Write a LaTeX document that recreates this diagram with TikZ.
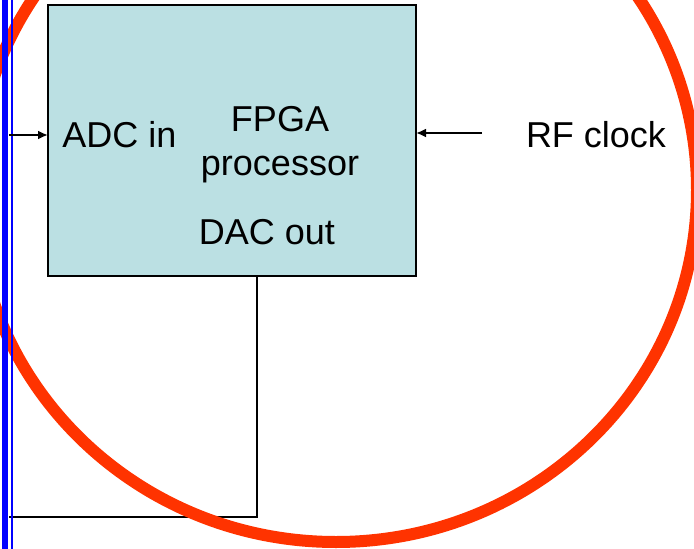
\documentclass[tikz,border=0pt]{standalone}
\usepackage{fontspec}
\setmainfont{Liberation Sans}
\usetikzlibrary{arrows.meta}
\definecolor{boxfill}{HTML}{BBE0E3}
\definecolor{ringred}{HTML}{FF3300}
\definecolor{railblue}{HTML}{0000FF}
\tikzset{
  label36/.style={font=\fontsize{36}{40}\selectfont, inner sep=0pt, anchor=base},
  wire/.style={draw=black, line width=2pt},
  feed/.style={wire, -{Latex[length=10pt,width=9pt]}},
  procbox/.style={draw=black, line width=2pt, fill=boxfill, rectangle,
    minimum width=368pt, minimum height=271pt, inner sep=0pt},
}
\begin{document}
\begin{tikzpicture}[x=1pt, y=-1pt]
  \useasboundingbox (0,0) rectangle (694,549);
  \begin{scope}
    \clip (0,0) rectangle (694,549);

    % processor block
    \node[procbox] (fpga) at (232,140.5) {};

    % feedback loop from the DAC output back to the rail
    \coordinate (dacbot) at (257,276);
    \coordinate (loopcorner) at (257,517);
    \coordinate (loopend) at (9,517);
    \draw[wire] (dacbot) -- (loopcorner) -- (loopend);

    % ring
    \draw[ringred, line width=12pt] (336,190) ellipse [x radius=361, y radius=352];

    % rails
    \draw[railblue, line width=6pt] (5,-5) -- (5,560);
    \draw[railblue, line width=2pt] (12,-5) -- (12,560);

    % inputs
    \coordinate (adcsrc) at (9,135);
    \coordinate (adcin) at (48,135);
    \draw[feed] (adcsrc) -- (adcin);
    \coordinate (rfsrc) at (482,133);
    \coordinate (rfin) at (416,133);
    \draw[feed] (rfsrc) -- (rfin);
  \end{scope}

  % labels
  \node[label36] (adc) at (119.5,147) {ADC in};
  \node[label36] (fpgat) at (280,131) {FPGA};
  \node[label36] (proc) at (280,175) {processor};
  \node[label36] (dac) at (267,244) {DAC out};
  \node[label36] (rf) at (596,147) {RF clock};
\end{tikzpicture}
\end{document}
